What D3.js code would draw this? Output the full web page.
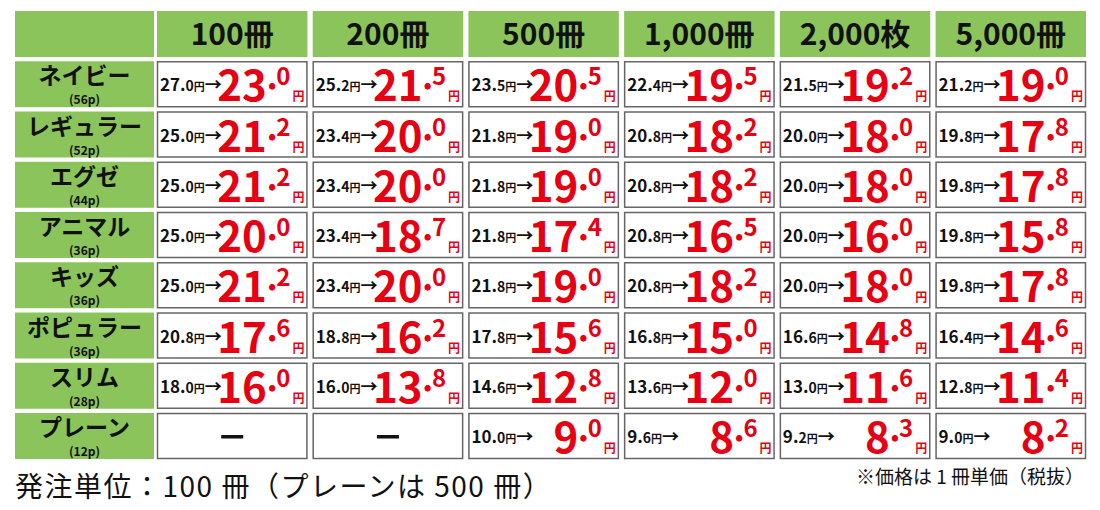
<!DOCTYPE html><html><head><meta charset="utf-8"><script src="https://d3js.org/d3.v7.min.js"></script>
<style>body{margin:0;background:#fff}</style></head><body><svg id="c" width="1100" height="510"></svg>
<script>
const columns=["100冊","200冊","500冊","1,000冊","2,000枚","5,000冊"];
const products=["ネイビー","レギュラー","エグゼ","アニマル","キッズ","ポピュラー","スリム","プレーン"];
const pages=["(56p)","(52p)","(44p)","(36p)","(36p)","(36p)","(28p)","(12p)"];
const listPrice=[
 [27.0,25.2,23.5,22.4,21.5,21.2],
 [25.0,23.4,21.8,20.8,20.0,19.8],
 [25.0,23.4,21.8,20.8,20.0,19.8],
 [25.0,23.4,21.8,20.8,20.0,19.8],
 [25.0,23.4,21.8,20.8,20.0,19.8],
 [20.8,18.8,17.8,16.8,16.6,16.4],
 [18.0,16.0,14.6,13.6,13.0,12.8],
 [null,null,10.0,9.6,9.2,9.0]];
const salePrice=[
 [23.0,21.5,20.5,19.5,19.2,19.0],
 [21.2,20.0,19.0,18.2,18.0,17.8],
 [21.2,20.0,19.0,18.2,18.0,17.8],
 [20.0,18.7,17.4,16.5,16.0,15.8],
 [21.2,20.0,19.0,18.2,18.0,17.8],
 [17.6,16.2,15.6,15.0,14.8,14.6],
 [16.0,13.8,12.8,12.0,11.6,11.4],
 [null,null,9.0,8.6,8.3,8.2]];
const footLeft="発注単位：100 冊（プレーンは 500 冊）";
const footRight="※価格は 1 冊単価（税抜）";

const svg=d3.select("#c");
const F="'Noto Sans CJK JP','Noto Sans',sans-serif";
const N="'Liberation Sans Narrow','Noto Sans CJK JP',sans-serif";
const green="#8bc45a";
const colX=d3.scaleBand().domain(columns).range([157,1086]).paddingInner(0.034);
const y=d3.scaleBand().domain(["head",...products]).range([11,459]).paddingInner(0.085);
const lblX=15,lblW=139;

svg.append("rect").attr("x",lblX).attr("y",y("head")).attr("width",lblW).attr("height",y.bandwidth()).attr("fill",green);
columns.forEach(c=>{
 svg.append("rect").attr("x",colX(c)).attr("y",y("head")).attr("width",colX.bandwidth()).attr("height",y.bandwidth()).attr("fill",green);
 svg.append("text").attr("x",colX(c)+colX.bandwidth()/2).attr("y",y("head")+y.bandwidth()/2+11).attr("text-anchor","middle")
  .attr("font-family",F).attr("font-weight","bold").attr("font-size",30).attr("fill","#111").text(c);
});
products.forEach((p,i)=>{
 const ry=y(p),h=y.bandwidth();
 svg.append("rect").attr("x",lblX).attr("y",ry).attr("width",lblW).attr("height",h).attr("fill",green);
 svg.append("text").attr("x",lblX+lblW/2).attr("y",ry+23).attr("text-anchor","middle").attr("font-family",F).attr("font-weight","bold").attr("font-size",23).attr("fill","#111").text(p);
 svg.append("text").attr("x",lblX+lblW/2).attr("y",ry+43).attr("text-anchor","middle").attr("font-family",F).attr("font-weight","bold").attr("font-size",12).attr("fill","#111").text(pages[i]);
 columns.forEach((c,j)=>{
  const cx=colX(c),w=colX.bandwidth();
  svg.append("rect").attr("x",cx+0.5).attr("y",ry+0.5).attr("width",w-1).attr("height",h-1).attr("fill","#fff").attr("stroke","#666").attr("stroke-width",1.5);
  const lp=listPrice[i][j],sp=salePrice[i][j];
  if(lp==null){
   svg.append("rect").attr("x",cx+w/2-11).attr("y",ry+h/2-1).attr("width",22).attr("height",3.5).attr("fill","#111");
   return;
  }
  const [li,ld]=lp.toFixed(1).split(".");
  const [si,sd]=sp.toFixed(1).split(".");
  const t=svg.append("text").attr("x",cx+3).attr("y",ry+30).attr("font-family",N).attr("font-weight","bold").attr("fill","#111");
  t.append("tspan").attr("font-size",17).text(li+".");
  t.append("tspan").attr("font-size",14).text(ld);
  t.append("tspan").attr("font-size",11).attr("font-family",F).text("円");
  t.append("tspan").attr("font-size",17).attr("font-family",F).text("→");
  const t2=svg.append("text").attr("x",cx+w-3).attr("y",ry+40).attr("text-anchor","end").attr("font-family",N).attr("font-weight","bold").attr("fill","#e60012");
  t2.append("tspan").attr("font-size",42).text(si);
  t2.append("tspan").attr("font-size",42).attr("dx",1).text("•").attr("font-size",22).attr("dy",-8);
  t2.append("tspan").attr("font-size",24).attr("dy",-8).text(sd);
  t2.append("tspan").attr("font-size",12).attr("font-family",F).attr("dy",16).attr("dx",2).text("円");
 });
});
svg.append("text").attr("x",15).attr("y",497).attr("font-family",F).attr("font-size",28).attr("letter-spacing",1.5).attr("fill","#111").text(footLeft);
svg.append("text").attr("x",1084).attr("y",484).attr("text-anchor","end").attr("font-family",F).attr("font-size",19).attr("fill","#111").text(footRight);
</script></body></html>
